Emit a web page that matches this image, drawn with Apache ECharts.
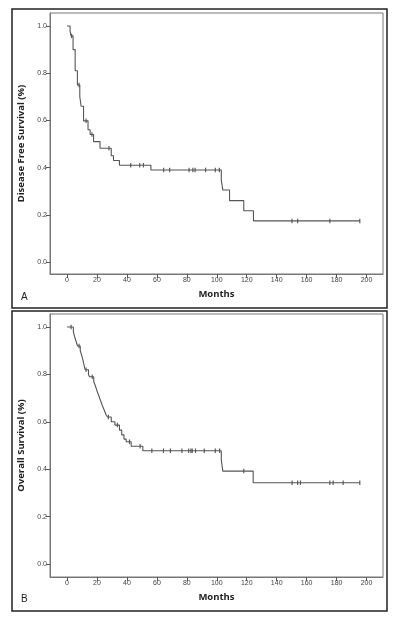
<!DOCTYPE html>
<html>
<head>
<meta charset="utf-8">
<script src="https://cdn.jsdelivr.net/npm/echarts@6/dist/echarts.min.js"></script>
<style>
  html, body { margin: 0; padding: 0; background: #fff; }
  #chart { width: 396px; height: 621px; }
</style>
</head>
<body>
<div id="chart"></div>
<script>
// tick labels
const monthTicks = [0, 20, 40, 60, 80, 100, 120, 140, 160, 180, 200]
const survTicks = [0, 0.2, 0.4, 0.6, 0.8, 1.0]

// A: disease free survival, event times and survival after each drop
const dfsTimes = [0, 2, 2.6, 4, 5.4, 6.9, 8.5, 9.4, 11, 14, 15.4, 17.7, 22, 29.5, 31, 35, 56, 103, 104, 108.5, 118, 124.5, 195.5]
const dfsSurv = [1.0, 0.979, 0.958, 0.90, 0.81, 0.75, 0.70, 0.66, 0.598, 0.56, 0.54, 0.51, 0.482, 0.45, 0.43, 0.41, 0.39, 0.347, 0.305, 0.26, 0.217, 0.174, 0.174]
const dfsCensored = [3, 8, 12.7, 16.6, 28, 42.5, 48.5, 51, 64.5, 68.5, 81.5, 84, 85.5, 92.5, 99, 101.7,
  150.2, 154, 175.5, 195.5]

// B: overall survival
const osTimes = [0, 4.2, 5, 6, 7, 8.8, 9.8, 10.6, 11.3, 12, 14.3, 15, 17.8, 19, 20, 21.2, 22.3, 23.5, 24.8, 26, 27,
  29.5, 32, 35, 36.5, 38, 39.5, 42.8, 50.6, 103, 104, 124.3, 195.5]
const osSurv = [1.0, 0.98, 0.96, 0.94, 0.92, 0.9, 0.88, 0.86, 0.84, 0.82, 0.8, 0.79, 0.77, 0.75, 0.73, 0.71, 0.69, 0.67, 0.65, 0.63, 0.62,
  0.6, 0.586, 0.565, 0.545, 0.527, 0.516, 0.497, 0.478, 0.44, 0.392, 0.343, 0.343]
const osCensored = [2.7, 8, 12.7, 16.8, 27.6, 33.6, 41.7, 48.8, 56.6, 64.4, 69, 76.7, 81.2, 82.7, 83.6, 85.8, 91.6, 99, 101.9,
  118, 150.3, 154, 155.9, 175.5, 177.7, 184.4, 195.5]

// survival value at time t on a step curve
function survAt(times, surv, t) {
  let s = surv[0]
  for (let i = 0; i < times.length; i++) {
    if (times[i] <= t) s = surv[i]
  }
  return s
}

function stepData(times, surv) {
  return times.map((t, i) => [t, surv[i]])
}
function censorData(times, surv, cens) {
  return cens.map(t => [t, survAt(times, surv, t)])
}

const lineColor = '#555'
const tickMark = 'path://M0,0H1V10H0Z'

function xAxisFor(idx) {
  return {
    type: 'value',
    gridIndex: idx,
    min: -11.4,
    max: 211,
    name: 'Months',
    nameLocation: 'middle',
    nameGap: 15,
    nameTextStyle: { fontFamily: 'Open Sans', fontWeight: 'bold', fontSize: 9.5, color: '#222' },
    axisLine: { show: true, onZero: false, lineStyle: { color: '#777', width: 1 } },
    axisTick: { show: true, customValues: monthTicks, length: 4, lineStyle: { color: '#555' } },
    axisLabel: { customValues: monthTicks, fontSize: 7, margin: 3, color: '#444', fontFamily: 'Liberation Sans' },
    splitLine: { show: false }
  }
}
function yAxisFor(idx, title, range) {
  return {
    type: 'value',
    gridIndex: idx,
    min: range[0],
    max: range[1],
    name: title,
    nameLocation: 'middle',
    nameGap: 20,
    nameRotate: 90,
    nameTextStyle: { fontFamily: 'Open Sans', fontWeight: 'bold', fontSize: 9.5, color: '#222' },
    axisLine: { show: true, onZero: false, lineStyle: { color: '#777', width: 1 } },
    axisTick: { show: true, customValues: survTicks, length: 4, lineStyle: { color: '#555' } },
    axisLabel: {
      customValues: survTicks, fontSize: 7, margin: 3, color: '#444', fontFamily: 'Liberation Sans',
      formatter: v => v.toFixed(1)
    },
    splitLine: { show: false }
  }
}

const chart = echarts.init(document.getElementById('chart'), null, { renderer: 'canvas' })
chart.setOption({
  animation: false,
  backgroundColor: '#fff',
  grid: [
    { left: 50, top: 13, width: 333, height: 261, show: true, borderColor: '#777', borderWidth: 1 },
    { left: 50, top: 314, width: 333, height: 263, show: true, borderColor: '#777', borderWidth: 1 }
  ],
  xAxis: [xAxisFor(0), xAxisFor(1)],
  yAxis: [
    yAxisFor(0, 'Disease Free Survival (%)', [-0.051, 1.055]),
    yAxisFor(1, 'Overall Survival (%)', [-0.055, 1.055])
  ],
  graphic: [
    { type: 'rect', shape: { x: 12, y: 9, width: 375, height: 299 }, style: { fill: 'none', stroke: '#222', lineWidth: 1.5 } },
    { type: 'rect', shape: { x: 12, y: 311, width: 375, height: 300 }, style: { fill: 'none', stroke: '#222', lineWidth: 1.5 } },
    { type: 'text', left: 21, top: 292, style: { text: 'A', fontSize: 10, fill: '#222', fontFamily: 'Liberation Sans' } },
    { type: 'text', left: 21, top: 594, style: { text: 'B', fontSize: 10, fill: '#222', fontFamily: 'Liberation Sans' } }
  ],
  series: [
    {
      type: 'line', xAxisIndex: 0, yAxisIndex: 0, step: 'end', symbol: 'none',
      lineStyle: { color: lineColor, width: 1.1 },
      data: stepData(dfsTimes, dfsSurv)
    },
    {
      type: 'scatter', xAxisIndex: 0, yAxisIndex: 0, symbol: tickMark, symbolSize: [1.2, 4.5],
      itemStyle: { color: '#333' },
      data: censorData(dfsTimes, dfsSurv, dfsCensored)
    },
    {
      type: 'line', xAxisIndex: 1, yAxisIndex: 1, step: 'end', symbol: 'none',
      lineStyle: { color: lineColor, width: 1.1 },
      data: stepData(osTimes, osSurv)
    },
    {
      type: 'scatter', xAxisIndex: 1, yAxisIndex: 1, symbol: tickMark, symbolSize: [1.2, 4.5],
      itemStyle: { color: '#333' },
      data: censorData(osTimes, osSurv, osCensored)
    }
  ]
})
</script>
</body>
</html>
